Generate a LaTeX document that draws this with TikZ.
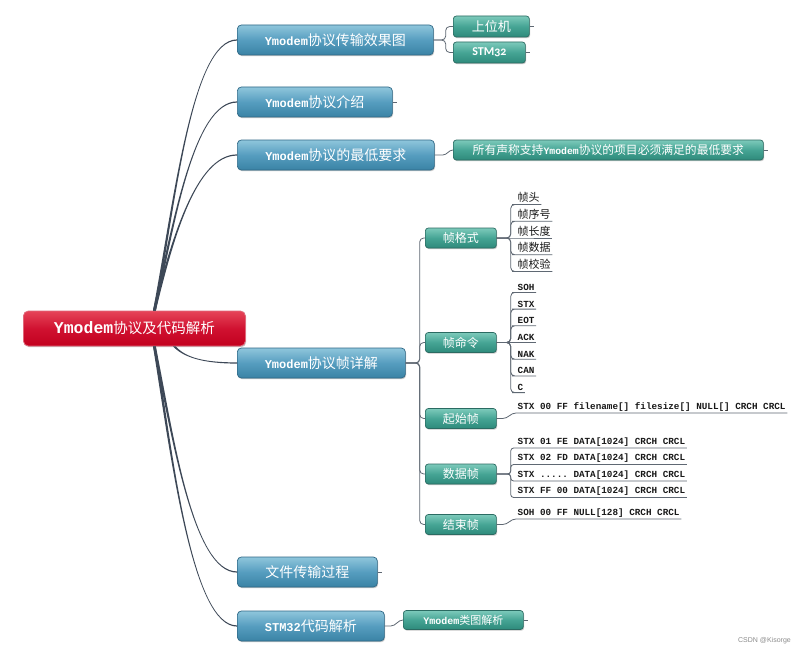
\documentclass[tikz,border=0pt]{standalone}
\usepackage{fontspec}
\usetikzlibrary{calc,shadows}
\newfontfamily\cjkf{Noto Sans CJK SC}
\newfontfamily\monof{Liberation Mono}
\newfontfamily\calf[Numbers=OldStyle]{Carlito}
\newfontfamily\wmf{Liberation Sans}
\newcommand\mtx[2]{{\monof\bfseries\fontsize{#1}{#1}\selectfont #2}}
\newcommand\ctx[2]{{\cjkf\fontsize{#1}{#1}\selectfont #2}}
\newcommand\fivedots{.....}
\frenchspacing
\definecolor{roottop}{HTML}{E64458}
\definecolor{rootmid}{HTML}{D01231}
\definecolor{rootbot}{HTML}{C2001E}
\definecolor{rootline}{HTML}{E0687A}
\definecolor{lonetop}{HTML}{8FC6DC}
\definecolor{lonemid}{HTML}{569DBF}
\definecolor{lonebot}{HTML}{3A83A5}
\definecolor{loneline}{HTML}{2F6886}
\definecolor{ltwotop}{HTML}{7DCABB}
\definecolor{ltwomid}{HTML}{45A494}
\definecolor{ltwobot}{HTML}{2E8A7B}
\definecolor{ltwoline}{HTML}{2B6B62}
\definecolor{trunkcol}{HTML}{3D4857}
\definecolor{conncol}{HTML}{5F6873}
\newcommand\taperbr[5]{%
  \fill[trunkcol] ($(#1)+(-1.4,0)$) .. controls ($(#2)+(-1.0,0)$) and ($(#3)+(0,{-0.6*#5})$) .. ($(#4)+(0,{-0.6*#5})$)
    -- ($(#4)+(0,{0.6*#5})$) .. controls ($(#3)+(0,{0.6*#5})$) and ($(#2)+(1.0,0)$) .. ($(#1)+(1.4,0)$) -- cycle;}
\tikzset{
  boxshadow/.style={drop shadow={shadow xshift=0.8pt, shadow yshift=-1.2pt, opacity=0.3, fill=black!70}},
  rootbox/.style={boxshadow, draw=rootline, line width=0.8pt, rounded corners=5pt, top color=roottop, bottom color=rootbot, middle color=rootmid, text=white, inner sep=0pt, minimum height=35pt, anchor=west},
  lone/.style={boxshadow, draw=loneline, line width=0.7pt, rounded corners=4pt, top color=lonetop, bottom color=lonebot, middle color=lonemid, text=white, inner sep=0pt, minimum height=30pt, anchor=west},
  ltwo/.style={boxshadow, draw=ltwoline, line width=0.7pt, rounded corners=3pt, top color=ltwotop, bottom color=ltwobot, middle color=ltwomid, text=white, inner sep=0pt, minimum height=20pt, anchor=west},
  leaf/.style={anchor=south west, inner xsep=1.5pt, inner ysep=1.8pt, text=black!90},
  conn/.style={draw=conncol, line width=0.8pt},
}
\begin{document}
\begin{tikzpicture}[x=1pt,y=-1pt]
\fill[white] (0,0) rectangle (800,650);
\useasboundingbox (0,0) rectangle (800,650);

% root and first level
\node[rootbox, minimum width=222pt] (root) at (23,328.5) {\mtx{16.5}{Ymodem}\ctx{14.5}{协议及代码解析}};
\node[lone, minimum width=196pt] (n1) at (237,40) {\mtx{12}{Ymodem}\ctx{14}{协议传输效果图}};
\node[lone, minimum width=155pt] (n2) at (237,102) {\mtx{12}{Ymodem}\ctx{14}{协议介绍}};
\node[lone, minimum width=197pt] (n3) at (237,155) {\mtx{12}{Ymodem}\ctx{14}{协议的最低要求}};
\node[lone, minimum width=168pt] (n4) at (237,363) {\mtx{12}{Ymodem}\ctx{14}{协议帧详解}};
\node[lone, minimum width=140pt] (n5) at (237,572) {\ctx{14}{文件传输过程}};
\node[lone, minimum width=147pt] (n6) at (237,626) {\mtx{12}{STM32}\ctx{14}{代码解析}};

% second level
\node[ltwo, minimum width=76pt, minimum height=21pt] (t1) at (453,26.5) {\ctx{13}{上位机}};
\node[ltwo, minimum width=72pt, minimum height=21pt] (t2) at (453,52.5) {\calf\bfseries\fontsize{12}{12}\selectfont STM32};
\node[ltwo, minimum width=310pt] (t3) at (453,150) {\ctx{11.8}{所有声称支持}\mtx{9.8}{Ymodem}\ctx{11.8}{协议的项目必须满足的最低要求}};
\node[ltwo, minimum width=71pt] (f1) at (425,238) {\ctx{12}{帧格式}};
\node[ltwo, minimum width=71pt] (f2) at (425,342.5) {\ctx{12}{帧命令}};
\node[ltwo, minimum width=71pt] (f3) at (425,418.5) {\ctx{12}{起始帧}};
\node[ltwo, minimum width=71pt] (f4) at (425,474) {\ctx{12}{数据帧}};
\node[ltwo, minimum width=71pt] (f5) at (425,524.5) {\ctx{12}{结束帧}};
\node[ltwo, minimum width=120pt, minimum height=19pt] (t6) at (403,620) {\mtx{10}{Ymodem}\ctx{11}{类图解析}};

% root branches
\coordinate (rT) at ($(root.north)+(20,0)$);
\coordinate (rB) at ($(root.south)+(20,0)$);
\coordinate (rC) at ($(root.south)+(40,0)$);
\taperbr{rT}{175,200}{192,40}{n1.west}{1}
\taperbr{rT}{174,222}{194,102}{n2.west}{1}
\taperbr{rT}{172,240}{196,155}{n3.west}{1}
\taperbr{rC}{185,358}{205,363}{n4.west}{-1}
\taperbr{rB}{173,437}{193,572}{n5.west}{-1}
\taperbr{rB}{172,458}{192,626}{n6.west}{-1}

% first to second level
\draw[conn, rounded corners=4pt] (n1.east) -- ++(12,0) |- (t1.west);
\draw[conn, rounded corners=4pt] (n1.east) -- ++(12,0) |- (t2.west);
\draw[conn] (n3.east) -- ++(8,0) to[out=0,in=180] (t3.west);
\foreach \f in {f1,f2,f3,f4,f5}
  \draw[conn, rounded corners=4pt] (n4.east) -- ++(14,0) |- (\f.west);
\draw[conn] (n6.east) -- ++(6,0) to[out=0,in=180] (t6.west);

% stubs of nodes without children
\foreach \n in {t1,t2,n2,t3,n5,t6}
  \draw[conn] (\n.east) -- ++(4,0);

% frame format leaves
\foreach \i/\t/\yy in {1/帧头/204.5, 2/帧序号/221.25, 4/帧数据/254.75, 5/帧校验/271.5} {
  \node[leaf] (a\i) at (516,\yy) {\ctx{11}{\t}};
  \draw[conn, rounded corners=4pt] (f1.east) -- ++(14,0) |- (a\i.south west) -- (a\i.south east);
}
\node[leaf] (a3) at (516,238) {\ctx{11}{帧长度}};
\draw[conn] (f1.east) -- (a3.south west) -- (a3.south east);

% frame command leaves
\foreach \i/\t/\yy in {1/SOH/292.4, 2/STX/309.1, 3/EOT/325.8, 5/NAK/359.2, 6/CAN/375.9, 7/C/392.6} {
  \node[leaf] (b\i) at (516,\yy) {\mtx{9.3}{\t}};
  \draw[conn, rounded corners=4pt] (f2.east) -- ++(14,0) |- (b\i.south west) -- (b\i.south east);
}
\node[leaf] (b4) at (516,342.5) {\mtx{9.3}{ACK}};
\draw[conn] (f2.east) -- (b4.south west) -- (b4.south east);

% start frame
\node[leaf] (s1) at (516,413) {\mtx{9.3}{STX 00 FF filename[] filesize[] NULL[] CRCH CRCL}};
\draw[conn] (f3.east) -- ++(6,0) to[out=0,in=180] (s1.south west) -- (s1.south east);

% data frames
\node[leaf] (d1) at (516,448) {\mtx{9.3}{STX 01 FE DATA[1024] CRCH CRCL}};
\node[leaf] (d2) at (516,464.5) {\mtx{9.3}{STX 02 FD DATA[1024] CRCH CRCL}};
\node[leaf] (d3) at (516,481) {\mtx{9.3}{STX \fivedots{} DATA[1024] CRCH CRCL}};
\node[leaf] (d4) at (516,497.5) {\mtx{9.3}{STX FF 00 DATA[1024] CRCH CRCL}};
\foreach \d in {d1,d2,d3,d4}
  \draw[conn, rounded corners=3pt] (f4.east) -- ++(14,0) |- (\d.south west) -- (\d.south east);

% end frame
\node[leaf] (e1) at (516,519) {\mtx{9.3}{SOH 00 FF NULL[128] CRCH CRCL}};
\draw[conn] (f5.east) -- ++(6,0) to[out=0,in=180] (e1.south west) -- (e1.south east);

% watermark
\node[anchor=east, inner sep=0pt, text=black!45, font=\wmf\fontsize{7}{7}\selectfont] (wm) at (791,641) {CSDN @Kisorge};
\end{tikzpicture}
\end{document}
